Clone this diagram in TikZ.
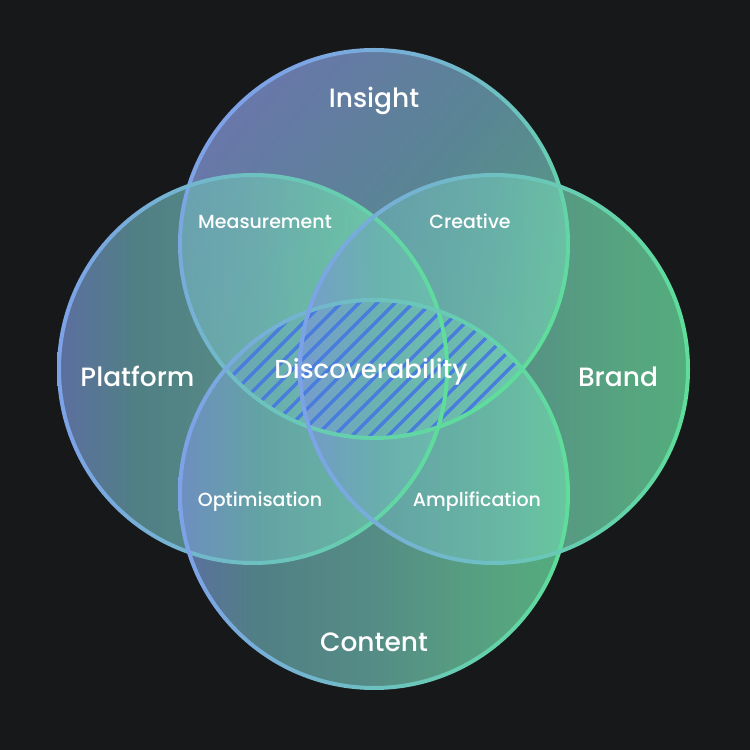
\documentclass[tikz,border=0pt]{standalone}
\usepackage{fontspec}
\setmainfont{Poppins}[UprightFont={* Medium}]
\definecolor{bgc}{RGB}{23,24,26}
\definecolor{fA}{RGB}{122,148,218}
\definecolor{fB}{RGB}{106,172,178}
\definecolor{fC}{RGB}{112,190,180}
\definecolor{fD}{RGB}{114,222,172}
\definecolor{fE}{RGB}{110,236,167}
\definecolor{tA}{RGB}{140,160,232}
\definecolor{tB}{RGB}{118,180,200}
\definecolor{tC}{RGB}{115,215,175}
\definecolor{sA}{RGB}{125,162,232}
\definecolor{sB}{RGB}{94,222,154}
\definecolor{hatchc}{RGB}{72,125,222}
\pgfdeclarehorizontalshading{circfill}{100bp}{color(0bp)=(fA); color(25bp)=(fA); color(35bp)=(fB); color(50bp)=(fC); color(65bp)=(fD); color(75bp)=(fE); color(100bp)=(fE)}
\pgfdeclarehorizontalshading{topfill}{100bp}{color(0bp)=(tA); color(25bp)=(tA); color(50bp)=(tB); color(75bp)=(tC); color(100bp)=(tC)}
\pgfdeclarehorizontalshading{circline}{100bp}{color(0bp)=(sA); color(25bp)=(sA); color(75bp)=(sB); color(100bp)=(sB)}
\tikzset{
  setfill/.style={shading=circfill, fill opacity=0.7},
  setline/.style={shading=circline, even odd rule},
  hatchline/.style={hatchc, line width=3.3pt},
  mainlbl/.style={text=white, anchor=base, font=\fontsize{26.5}{30}\selectfont, inner sep=0pt},
  sublbl/.style={text=white, anchor=base, font=\fontsize{19}{22}\selectfont, inner sep=0pt},
}
\begin{document}
\begin{tikzpicture}[x=1pt,y=1pt]
\fill[bgc] (0,0) rectangle (750,750);
\useasboundingbox (0,0) rectangle (750,750);
\coordinate (cI) at (374,506);
\coordinate (cP) at (253,381);
\coordinate (cB) at (494,381);
\coordinate (cC) at (374,256);
% fills
\shade[setfill, shading=topfill, shading angle=-40] (cI) circle (194);
\shade[setfill] (cP) circle (194);
\shade[setfill] (cC) circle (194);
\shade[setfill] (cB) circle (194);
% hatch in the Insight-Content lens
\begin{scope}
  \clip (cI) circle (194);
  \clip (cC) circle (194);
  \foreach \k in {0,...,24} {
    \draw[hatchline] (\k*18+40, 290) -- ++(190,190);
  }
\end{scope}
% outlines
\shade[setline, shading angle=-40] (cI) circle (196) (cI) circle (192);
\shade[setline] (cP) circle (196) (cP) circle (192);
\shade[setline] (cC) circle (196) (cC) circle (192);
\shade[setline] (cB) circle (196) (cB) circle (192);
% labels
\node[mainlbl] (tI) at (374,642) {Insight};
\node[mainlbl] (tP) at (137.5,363) {Platform};
\node[mainlbl] (tB) at (618,363) {Brand};
\node[mainlbl] (tC) at (374,98) {Content};
\node[mainlbl, font=\fontsize{26}{30}\selectfont] (tD) at (371,371) {Discoverability};
\node[sublbl] (tM) at (265,521) {Measurement};
\node[sublbl] (tCr) at (470,521) {Creative};
\node[sublbl] (tO) at (260,243) {Optimisation};
\node[sublbl] (tA) at (477,243) {Amplification};
\end{tikzpicture}
\end{document}
